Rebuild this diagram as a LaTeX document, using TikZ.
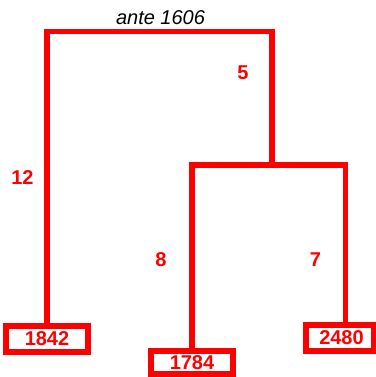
\documentclass[tikz,border=0pt]{standalone}
\usepackage{fontspec}
\setmainfont{Liberation Sans}
\begin{document}
\begin{tikzpicture}[x=1pt,y=-1pt,
  tree/.style={draw=red,line width=5.5pt,line join=miter},
  leafbox/.style={draw=red,line width=6pt,fill=white,inner sep=0pt,text=red,
    font=\fontsize{20}{24}\selectfont\bfseries},
  weight/.style={text=red,inner sep=0pt,anchor=base,font=\fontsize{20}{24}\selectfont\bfseries}]
\useasboundingbox (0,0) rectangle (375,377);
\coordinate (rootR) at (272,31.5);
\coordinate (j) at (272,165);
\coordinate (jR) at (345.5,165);
\node[leafbox,minimum width=82pt,minimum height=26pt] (b1842) at (47,338.5) {1842};
\node[leafbox,minimum width=82pt,minimum height=23pt] (b1784) at (192,362.5) {1784};
\node[leafbox,minimum width=68pt,minimum height=26pt] (b2480) at (339.5,338) {\hspace*{4pt}2480};
\draw[tree] (b1842.north) |- (rootR) -- (j);
\draw[tree] (b1784.north) |- (jR) -- (b2480.north -| jR);
\node[anchor=base,inner sep=0pt,font=\fontsize{20}{24}\selectfont\itshape] (anc) at (160.5,25) {ante 1606};
\node[weight] (w12) at (22.5,184.5) {12};
\node[weight] (w5) at (243,80) {5};
\node[weight] (w8) at (161,266) {8};
\node[weight] (w7) at (315.5,266) {7};
\end{tikzpicture}
\end{document}
